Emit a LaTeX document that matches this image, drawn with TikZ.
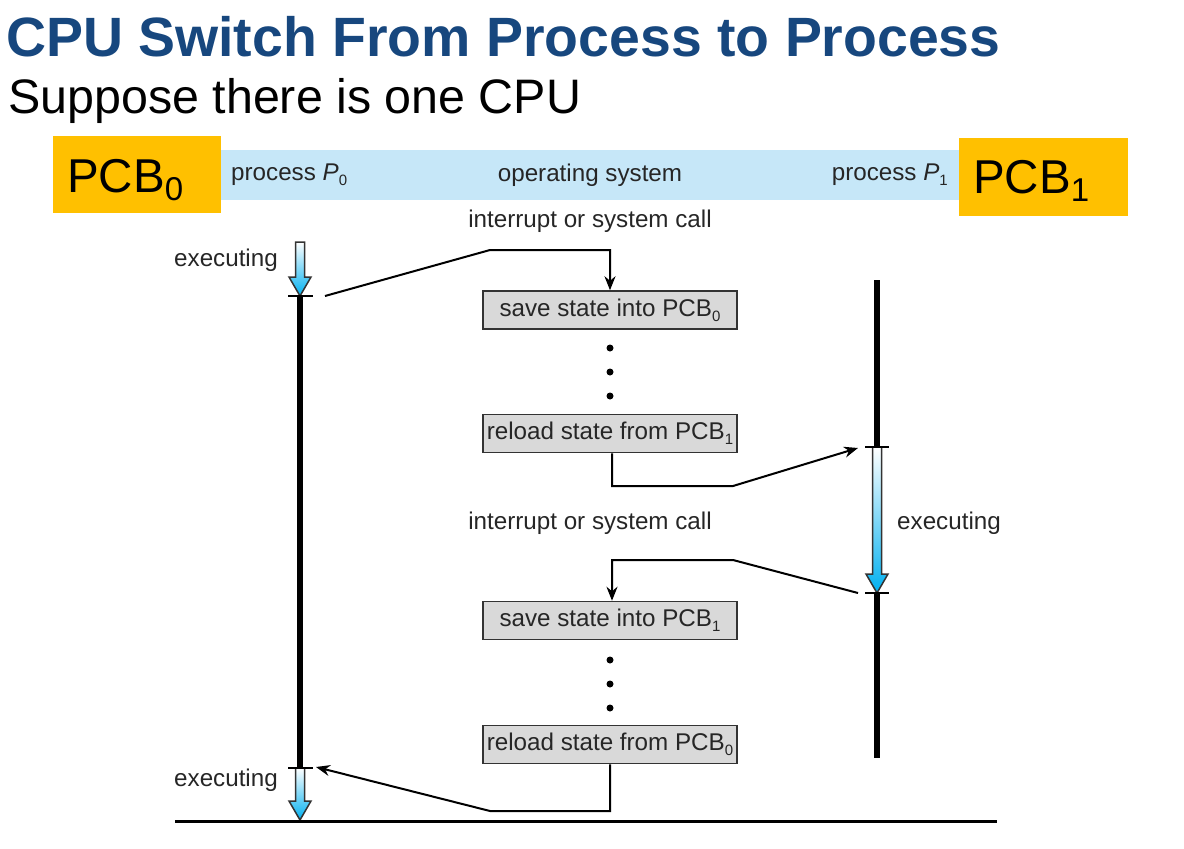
\documentclass[tikz,border=0pt]{standalone}
\usepackage{fontspec}
\setmainfont{Liberation Sans}
\usetikzlibrary{arrows.meta}
\definecolor{titleblue}{RGB}{23,71,126}
\definecolor{band}{RGB}{198,231,248}
\definecolor{pcb}{RGB}{255,192,0}
\definecolor{boxgray}{RGB}{217,217,217}
\definecolor{arrowcyan}{RGB}{0,176,240}
\newcommand\execarrow[3]{%
  \shadedraw[top color=white, bottom color=arrowcyan, draw=black!80, line width=1.5]
    (#1-4.5,#2) -- (#1+4.5,#2) -- (#1+4.5,#3-19) -- (#1+11,#3-19) -- (#1,#3)
    -- (#1-11,#3-19) -- (#1-4.5,#3-19) -- cycle;}
\newcommand\lowsub[1]{\raisebox{-5pt}{\fontsize{15}{15}\selectfont #1}}
\begin{document}
\begin{tikzpicture}[x=1pt,y=-1pt,
  lbl/.style={font=\fontsize{24.2}{26}\selectfont, text=black!85, inner sep=0},
  statebox/.style={draw=black!80, line width=1.5, fill=boxgray, minimum width=254,
    minimum height=38, font=\fontsize{24.2}{26}\selectfont, text=black!85, inner sep=0},
  conn/.style={line width=2, -{Stealth[length=14,width=11]}},
  timeline/.style={line width=5.5},
  tickmark/.style={line width=1.5},
  dotmark/.style={circle, fill=black, inner sep=0, minimum size=7},
  pcbbox/.style={fill=pcb, inner sep=0, anchor=north west},
  pcbtext/.style={font=\fontsize{47.5}{50}\selectfont, inner sep=0, anchor=base west}
]
\useasboundingbox (0,0) rectangle (1184,849);

% titles
\node[font=\fontsize{55.4}{60}\selectfont\bfseries, text=titleblue, anchor=base west, inner sep=0] (title) at (6,56) {CPU Switch From Process to Process};
\node[font=\fontsize{48.4}{52}\selectfont, anchor=base west, inner sep=0] (subtitle) at (8,113) {Suppose there is one CPU};

% header band
\node[fill=band, minimum width=740, minimum height=50, inner sep=0, anchor=north west] (band) at (220,150) {};
\node[pcbbox, minimum width=168, minimum height=77] (pcb0) at (53,136) {};
\node[pcbbox, minimum width=169, minimum height=78] (pcb1) at (959,138) {};
\node[pcbtext] (pcb0t) at (67,192) {PCB\raisebox{-8pt}{\fontsize{33}{33}\selectfont 0}};
\node[pcbtext] (pcb1t) at (973,193) {PCB\raisebox{-8pt}{\fontsize{33}{33}\selectfont 1}};
\node[lbl, anchor=west] (p0) at (231,175) {process \textit{P}\lowsub{0}};
\node[lbl] (os) at (590,175) {operating system};
\node[lbl, anchor=east] (p1) at (948,175) {process \textit{P}\lowsub{1}};

% labels
\node[lbl] (int1) at (590,221) {interrupt or system call};
\node[lbl] (int2) at (590,523) {interrupt or system call};
\node[lbl, anchor=west] (exL1) at (174,260) {executing};
\node[lbl, anchor=west] (exL2) at (174,780) {executing};
\node[lbl, anchor=west] (exR) at (897,523) {executing};

% state boxes
\node[statebox] (save0) at (610,310) {save state into PCB\lowsub{0}};
\node[statebox] (reload1) at (610,433.5) {reload state from PCB\lowsub{1}};
\node[statebox] (save1) at (610,620.5) {save state into PCB\lowsub{1}};
\node[statebox] (reload0) at (610,744.5) {reload state from PCB\lowsub{0}};

% dots
\node[dotmark] (d1) at (610,348) {};
\node[dotmark] (d2) at (610,372) {};
\node[dotmark] (d3) at (610,396) {};
\node[dotmark] (d4) at (610,660) {};
\node[dotmark] (d5) at (610,684) {};
\node[dotmark] (d6) at (610,708) {};

% timelines
\coordinate (L1) at (300,296);
\coordinate (L2) at (300,768);
\coordinate (R0) at (877,280);
\coordinate (R1) at (877,447);
\coordinate (R2) at (877,593);
\coordinate (R3) at (877,758);
\draw[timeline] (L1) -- (L2);
\draw[timeline] (R0) -- (R1);
\draw[timeline] (R2) -- (R3);
\execarrow{300}{242}{296}
\execarrow{300}{768}{820}
\execarrow{877}{447}{593}
\draw[tickmark] (288,296) -- (313,296);
\draw[tickmark] (288,768) -- (313,768);
\draw[tickmark] (865,447) -- (889,447);
\draw[tickmark] (865,593) -- (889,593);

% baseline
\coordinate (B1) at (175,821);
\coordinate (B2) at (997,821);
\draw[line width=3] (B1) -- (B2);

% connectors
\coordinate (a1) at (325,296);
\coordinate (a2) at (490,250);
\coordinate (a3) at (610,250);
\draw[conn] (a1) -- (a2) -- (a3) -- (save0.north);

\coordinate (b1) at (612,486);
\coordinate (b2) at (733,486);
\coordinate (b3) at (858,448);
\draw[conn] (reload1.south -| b1) -- (b1) -- (b2) -- (b3);

\coordinate (c1) at (858,593);
\coordinate (c2) at (733,560);
\coordinate (c3) at (612,560);
\draw[conn] (c1) -- (c2) -- (c3) -- (c3 |- save1.north);

\coordinate (e1) at (610,811);
\coordinate (e2) at (490,811);
\coordinate (e3) at (316,767);
\draw[conn] (reload0.south) -- (e1) -- (e2) -- (e3);
\end{tikzpicture}
\end{document}
